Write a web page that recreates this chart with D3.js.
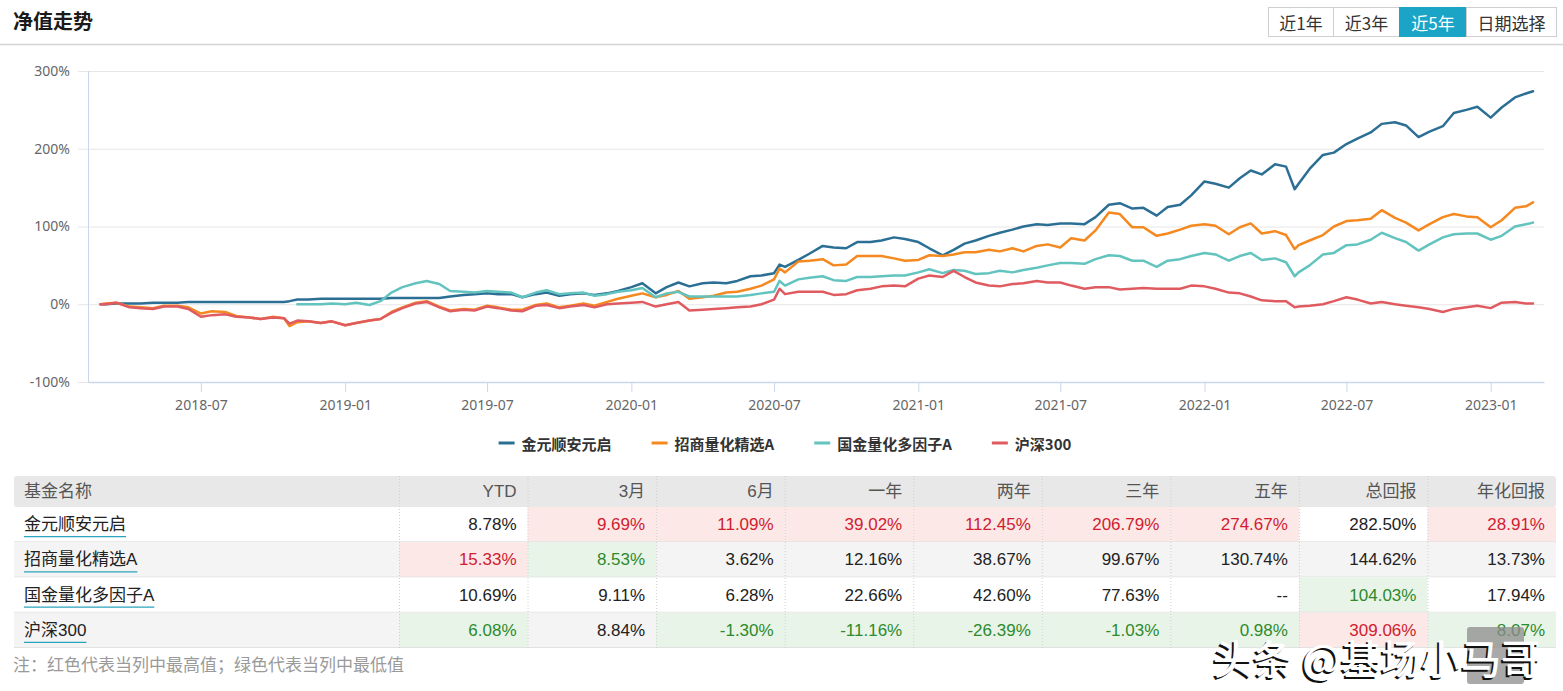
<!DOCTYPE html>
<html>
<head>
<meta charset="utf-8">
<script src="https://cdn.jsdelivr.net/npm/d3@7"></script>
<style>
  body { margin: 0; background: #fff; }
  svg { display: block; font-family: "Liberation Sans", "Noto Sans CJK SC", sans-serif; }
  .title { font-family: "Noto Sans CJK SC", sans-serif; font-size: 20px; font-weight: 700; fill: #1a1a1a; }
  .btn text { font-family: "Noto Sans CJK SC", sans-serif; font-size: 17px; fill: #333; }
  .axis text { font-family: "Noto Sans", "Noto Sans CJK SC", sans-serif; font-size: 14px; fill: #666; }
  .legend text { font-family: "Noto Sans CJK SC", sans-serif; font-size: 15px; font-weight: 700; fill: #333; }
  .cell { font-size: 17px; }
  .note { font-family: "Noto Sans CJK SC", sans-serif; font-size: 17px; fill: #9a9a9a; }
</style>
</head>
<body>
<div class="page"></div>
<script>
/* global d3 */

// ---- data ----
const fundNames = ['金元顺安元启', '招商量化精选A', '国金量化多因子A', '沪深300']
const fundColors = ['#2c6f95', '#f5891f', '#62c3bf', '#e05b60']

const dates = [
  // 2018
  '2018-02-23', '2018-03-01', '2018-03-15', '2018-04-01', '2018-04-15', '2018-05-01', '2018-05-15',
  '2018-06-01', '2018-06-15', '2018-07-01', '2018-07-15', '2018-08-01', '2018-08-15', '2018-09-01',
  '2018-09-15', '2018-10-01', '2018-10-15', '2018-10-22', '2018-11-01', '2018-11-15', '2018-12-01', '2018-12-15',
  // 2019
  '2019-01-01', '2019-01-15', '2019-02-01', '2019-02-15', '2019-03-01', '2019-03-15', '2019-04-01', '2019-04-15',
  '2019-05-01', '2019-05-15', '2019-06-01', '2019-06-15', '2019-07-01', '2019-07-15', '2019-08-01', '2019-08-15',
  '2019-09-01', '2019-09-15', '2019-10-01', '2019-10-15', '2019-11-01', '2019-11-15', '2019-12-01', '2019-12-15',
  // 2020
  '2020-01-01', '2020-01-15', '2020-02-01', '2020-02-15', '2020-03-01', '2020-03-15', '2020-04-01', '2020-04-15',
  '2020-05-01', '2020-05-15', '2020-06-01', '2020-06-15', '2020-07-01', '2020-07-08', '2020-07-15', '2020-08-01',
  '2020-08-15', '2020-09-01', '2020-09-15', '2020-10-01', '2020-10-15', '2020-11-01', '2020-11-15', '2020-12-01', '2020-12-15',
  // 2021
  '2021-01-01', '2021-01-15', '2021-02-01', '2021-02-15', '2021-03-01', '2021-03-15', '2021-04-01', '2021-04-15',
  '2021-05-01', '2021-05-15', '2021-06-01', '2021-06-15', '2021-07-01', '2021-07-15', '2021-08-01', '2021-08-15',
  '2021-09-01', '2021-09-15', '2021-10-01', '2021-10-15', '2021-11-01', '2021-11-15', '2021-12-01', '2021-12-15',
  // 2022
  '2022-01-01', '2022-01-15', '2022-02-01', '2022-02-15', '2022-03-01', '2022-03-15', '2022-04-01', '2022-04-15',
  '2022-04-26', '2022-05-01', '2022-05-15', '2022-06-01', '2022-06-15', '2022-07-01', '2022-07-15', '2022-08-01',
  '2022-08-15', '2022-09-01', '2022-09-15', '2022-10-01', '2022-10-15', '2022-11-01', '2022-11-15', '2022-12-01', '2022-12-15',
  // 2023
  '2023-01-01', '2023-01-15', '2023-02-01', '2023-02-15', '2023-02-24'
]

// cumulative return, %
const jinyuan = [
  0, 0, 1, 1, 1, 2, 2, 2, 3, 3, 3, 3, 3, 3, 3, 3, 3, 4, 6, 6, 7, 7,
  7, 7, 7, 7, 8, 8, 8, 8, 8, 10, 12, 13, 14, 13, 13, 9, 13, 15, 11, 13, 14, 12, 14, 17,
  22, 27, 14, 22, 28, 23, 27, 28, 27, 30, 36, 37, 40, 51, 48, 57, 65, 75, 73, 72, 80, 80, 82, 86, 84,
  80, 72, 63, 70, 78, 82, 88, 92, 96, 100, 103, 102, 104, 104, 103, 112, 128, 130, 123, 124, 114, 125, 128, 140,
  158, 155, 150, 162, 172, 167, 180, 177, 148, 155, 174, 192, 195, 206, 213, 221, 232, 234, 230, 215, 222, 229, 246, 250, 254,
  240, 253, 266, 271, 274
]
const zhaoshang = [
  0, 1, 2, -3, -4, -5, -2, -2, -4, -12, -9, -10, -15, -17, -19, -16, -18, -28, -23, -22, -24, -22,
  -27, -24, -21, -19, -10, -4, 2, 4, -3, -8, -6, -7, -2, -4, -7, -7, -1, 1, -4, -2, 1, -2, 3, 7,
  11, 14, 9, 12, 17, 7, 9, 11, 15, 16, 20, 24, 32, 46, 41, 55, 56, 58, 50, 51, 62, 62, 62, 59, 56,
  57, 63, 62, 64, 67, 67, 70, 68, 72, 68, 75, 77, 73, 85, 82, 95, 118, 116, 99, 99, 88, 91, 96, 101,
  103, 101, 90, 99, 104, 91, 94, 89, 71, 76, 82, 89, 100, 107, 108, 110, 121, 111, 105, 95, 103, 112, 116, 113, 112,
  99, 108, 124, 126, 131
]
const guojin = [
  null, null, null, null, null, null, null, null, null, null, null, null, null, null, null, null, null, null, 0, 0, 0, 1,
  0, 2, -1, 4, 15, 22, 27, 30, 26, 17, 16, 15, 17, 16, 15, 9, 15, 18, 13, 14, 15, 11, 13, 16,
  18, 21, 9, 14, 16, 10, 10, 10, 10, 10, 12, 14, 16, 30, 24, 32, 34, 36, 31, 30, 35, 35, 36, 37, 37,
  41, 45, 40, 44, 43, 39, 40, 43, 41, 44, 47, 50, 53, 53, 52, 58, 63, 62, 56, 56, 48, 56, 58, 62,
  66, 64, 56, 62, 66, 57, 59, 54, 36, 41, 50, 64, 66, 76, 77, 83, 92, 85, 80, 69, 77, 86, 90, 91, 91,
  83, 88, 100, 103, 105
]
const hs300 = [
  0, 0, 2, -4, -5, -6, -3, -3, -6, -16, -14, -13, -16, -17, -19, -17, -18, -25, -21, -22, -24, -22,
  -27, -24, -21, -19, -11, -5, 1, 3, -4, -9, -7, -8, -3, -5, -8, -9, -2, -1, -5, -3, -1, -4, 0, 1,
  2, 3, -3, 0, 3, -8, -7, -6, -5, -4, -3, 0, 6, 20, 13, 16, 16, 16, 12, 13, 18, 20, 23, 24, 23,
  33, 37, 35, 43, 35, 28, 24, 23, 26, 27, 30, 28, 28, 24, 20, 22, 22, 19, 20, 21, 20, 20, 20, 24,
  23, 20, 15, 14, 10, 5, 4, 4, -4, -3, -2, 0, 4, 9, 6, 1, 3, 0, -2, -4, -6, -10, -6, -4, -2,
  -5, 2, 3, 1, 1
]

const yTicks = [-100, 0, 100, 200, 300]
const xTicks = ['2018-07', '2019-01', '2019-07', '2020-01', '2020-07', '2021-01', '2021-07', '2022-01', '2022-07', '2023-01']

const rangeButtons = ['近1年', '近3年', '近5年', '日期选择']
const activeButton = '近5年'

const tableColumns = ['基金名称', 'YTD', '3月', '6月', '一年', '两年', '三年', '五年', '总回报', '年化回报']
const returnsJinyuan = ['8.78%', '9.69%', '11.09%', '39.02%', '112.45%', '206.79%', '274.67%', '282.50%', '28.91%']
const returnsZhaoshang = ['15.33%', '8.53%', '3.62%', '12.16%', '38.67%', '99.67%', '130.74%', '144.62%', '13.73%']
const returnsGuojin = ['10.69%', '9.11%', '6.28%', '22.66%', '42.60%', '77.63%', '--', '104.03%', '17.94%']
const returnsHs300 = ['6.08%', '8.84%', '-1.30%', '-11.16%', '-26.39%', '-1.03%', '0.98%', '309.06%', '8.07%']

const noteText = '注：红色代表当列中最高值；绿色代表当列中最低值'
const watermarkText = '头条 @基场小马哥'

// ---- page ----
const width = 1563
const height = 691
const parseDate = d3.timeParse('%Y-%m-%d')
const parseMonth = d3.timeParse('%Y-%m')

const svg = d3.select('.page')
  .append('svg')
  .attr('width', width)
  .attr('height', height)

// Header
svg.append('text')
  .attr('class', 'title')
  .attr('x', 13)
  .attr('y', 29)
  .text('净值走势')

svg.append('line')
  .attr('x1', 0).attr('x2', width)
  .attr('y1', 44.5).attr('y2', 44.5)
  .attr('stroke', '#d4d4d4')
  .attr('stroke-width', 1.5)

// Range buttons
const btnWidths = [65, 66, 67, 90]
let btnX = 1268
const $btns = svg.append('g').attr('class', 'btn')
rangeButtons.forEach((label, i) => {
  const active = label === activeButton
  const g = $btns.append('g').attr('transform', `translate(${btnX}, 7)`)
  g.append('rect')
    .attr('x', 0.5).attr('y', 0.5)
    .attr('width', btnWidths[i]).attr('height', 29)
    .attr('fill', active ? '#1aa4c5' : '#fff')
    .attr('stroke', active ? '#1aa4c5' : '#cfcfcf')
  g.append('text')
    .attr('x', btnWidths[i] / 2 + 0.5)
    .attr('y', 15)
    .attr('text-anchor', 'middle')
    .attr('dominant-baseline', 'central')
    .style('fill', active ? '#fff' : '#333')
    .text(label)
  btnX += btnWidths[i]
})

// ---- line chart ----
const plot = { left: 88, right: 1544, top: 71, bottom: 382, gridLeft: 78 }

const x = d3.scaleTime()
  .domain([new Date(2018, 1, 7), new Date(2023, 2, 10)])
  .range([plot.left, plot.right])

const y = d3.scaleLinear()
  .domain([-100, 300])
  .range([plot.bottom, plot.top])

const $yAxis = svg.append('g')
  .attr('class', 'axis axis__y')
  .attr('transform', `translate(${plot.gridLeft}, 0)`)
  .call(
    d3.axisLeft(y)
      .tickValues(yTicks)
      .tickSize(-(plot.right - plot.gridLeft))
      .tickPadding(8)
      .tickFormat(d => d + '%')
  )
$yAxis.select('.domain').remove()
$yAxis.selectAll('.tick line').attr('stroke', '#e6e6e6')

svg.append('line')
  .attr('x1', plot.left + 0.5).attr('x2', plot.left + 0.5)
  .attr('y1', plot.top).attr('y2', plot.bottom)
  .attr('stroke', '#ccd6eb')

const $xAxis = svg.append('g')
  .attr('class', 'axis axis__x')
  .attr('transform', `translate(0, ${plot.bottom})`)
  .call(
    d3.axisBottom(x)
      .tickValues(xTicks.map(parseMonth))
      .tickSize(10)
      .tickSizeOuter(0)
      .tickPadding(8)
      .tickFormat(d3.timeFormat('%Y-%m'))
  )
$xAxis.select('.domain').attr('stroke', '#ccd6eb').attr('stroke-width', 1.5)
$xAxis.selectAll('.tick line').attr('stroke', '#ccd6eb')

const seriesValues = [jinyuan, zhaoshang, guojin, hs300]
const series = fundNames.map((name, i) => ({
  name,
  color: fundColors[i],
  points: dates.map((d, j) => ({ date: parseDate(d), value: seriesValues[i][j] }))
}))

const line = d3.line()
  .defined(d => d.value !== null)
  .x(d => x(d.date))
  .y(d => y(d.value))

svg.append('g')
  .selectAll('path')
  .data(series)
  .join('path')
  .attr('fill', 'none')
  .attr('stroke', d => d.color)
  .attr('stroke-width', 2.5)
  .attr('stroke-linejoin', 'round')
  .attr('stroke-linecap', 'round')
  .attr('d', d => line(d.points))

// Legend
const $legend = svg.append('g').attr('class', 'legend')
let legendX = 0
const legendItems = []
series.forEach(s => {
  const g = $legend.append('g')
  g.append('line')
    .attr('x1', 0).attr('x2', 16)
    .attr('y1', 0).attr('y2', 0)
    .attr('stroke', s.color)
    .attr('stroke-width', 3)
  const t = g.append('text')
    .attr('x', 23)
    .attr('y', 0)
    .attr('dominant-baseline', 'central')
    .text(s.name)
  const w = 23 + t.node().getComputedTextLength()
  legendItems.push({ g, x: legendX })
  legendX += w + 40
})
const legendWidth = legendX - 40
const legendStart = 785 - legendWidth / 2
legendItems.forEach(item => item.g.attr('transform', `translate(${legendStart + item.x}, 443)`))

// ---- table ----
const table = { left: 14, right: 1556, top: 476, headH: 31, rowH: 35.25, firstW: 385 }
const colW = (table.right - table.left - table.firstW) / (tableColumns.length - 1)
const colRight = i => table.left + table.firstW + colW * i
const tableRows = [returnsJinyuan, returnsZhaoshang, returnsGuojin, returnsHs300]

const numeric = s => (s === '--' ? null : parseFloat(s))
const colMax = []
const colMin = []
for (let c = 0; c < tableColumns.length - 1; c++) {
  const vals = tableRows.map(r => numeric(r[c])).filter(v => v !== null)
  colMax.push(d3.max(vals))
  colMin.push(d3.min(vals))
}

const $table = svg.append('g').attr('class', 'table')

// header row
$table.append('rect')
  .attr('x', table.left).attr('y', table.top)
  .attr('width', table.right - table.left).attr('height', table.headH)
  .attr('rx', 3)
  .attr('fill', '#e8e8e8')

tableColumns.forEach((col, i) => {
  $table.append('text')
    .attr('class', 'cell')
    .attr('x', i === 0 ? 24 : colRight(i) - 11)
    .attr('y', table.top + table.headH / 2)
    .attr('text-anchor', i === 0 ? 'start' : 'end')
    .attr('dominant-baseline', 'central')
    .attr('fill', '#555')
    .text(col)
})

tableRows.forEach((row, r) => {
  const top = table.top + table.headH + r * table.rowH
  const cy = top + table.rowH / 2
  $table.append('rect')
    .attr('x', table.left).attr('y', top)
    .attr('width', table.right - table.left).attr('height', table.rowH)
    .attr('fill', r % 2 === 1 ? '#f4f4f4' : '#fff')

  row.forEach((val, c) => {
    const v = numeric(val)
    let bg = null
    let fg = '#222'
    if (v !== null && v === colMax[c]) { bg = '#fde8e8'; fg = '#d0202e' }
    if (v !== null && v === colMin[c]) { bg = '#e8f4e8'; fg = '#2d8a2d' }
    if (bg) {
      $table.append('rect')
        .attr('x', colRight(c)).attr('y', top)
        .attr('width', colW).attr('height', table.rowH)
        .attr('fill', bg)
    }
    $table.append('text')
      .attr('class', 'cell')
      .attr('x', colRight(c + 1) - 11)
      .attr('y', cy)
      .attr('text-anchor', 'end')
      .attr('dominant-baseline', 'central')
      .attr('fill', fg)
      .text(val)
  })

  const name = $table.append('text')
    .attr('class', 'cell')
    .attr('x', 24)
    .attr('y', cy)
    .attr('dominant-baseline', 'central')
    .attr('fill', '#222')
    .text(fundNames[r])
  $table.append('line')
    .attr('x1', 24).attr('x2', 24 + name.node().getComputedTextLength())
    .attr('y1', cy + 12).attr('y2', cy + 12)
    .attr('stroke', '#2aa3bd')
    .attr('stroke-width', 1.2)

  $table.append('line')
    .attr('x1', table.left).attr('x2', table.right)
    .attr('y1', top + table.rowH - 0.5).attr('y2', top + table.rowH - 0.5)
    .attr('stroke', '#e2e2e2')
})

// dotted column separators
const tableBottom = table.top + table.headH + tableRows.length * table.rowH
for (let i = 0; i < tableColumns.length - 1; i++) {
  $table.append('line')
    .attr('x1', colRight(i) + 0.5).attr('x2', colRight(i) + 0.5)
    .attr('y1', table.top).attr('y2', tableBottom)
    .attr('stroke', '#d0d0d0')
    .attr('stroke-dasharray', '1,2')
}

// note
svg.append('text')
  .attr('class', 'note')
  .attr('x', 13)
  .attr('y', 663)
  .attr('dominant-baseline', 'central')
  .text(noteText)

// watermark
svg.append('rect')
  .attr('x', 1467).attr('y', 627)
  .attr('width', 57).attr('height', 57)
  .attr('rx', 3)
  .attr('fill', '#8c8c8c')
  .attr('opacity', 0.75)

const wm = svg.append('g')
  .style('font-family', '"Noto Sans CJK SC", sans-serif')
  .style('font-size', '40px')
  .style('font-weight', 500)
wm.append('text')
  .attr('x', 1211).attr('y', 659)
  .attr('dominant-baseline', 'central')
  .attr('fill', '#111')
  .text(watermarkText)
wm.append('text')
  .attr('x', 1213).attr('y', 657)
  .attr('dominant-baseline', 'central')
  .attr('fill', '#fff')
  .text(watermarkText)
</script>
</body>
</html>
